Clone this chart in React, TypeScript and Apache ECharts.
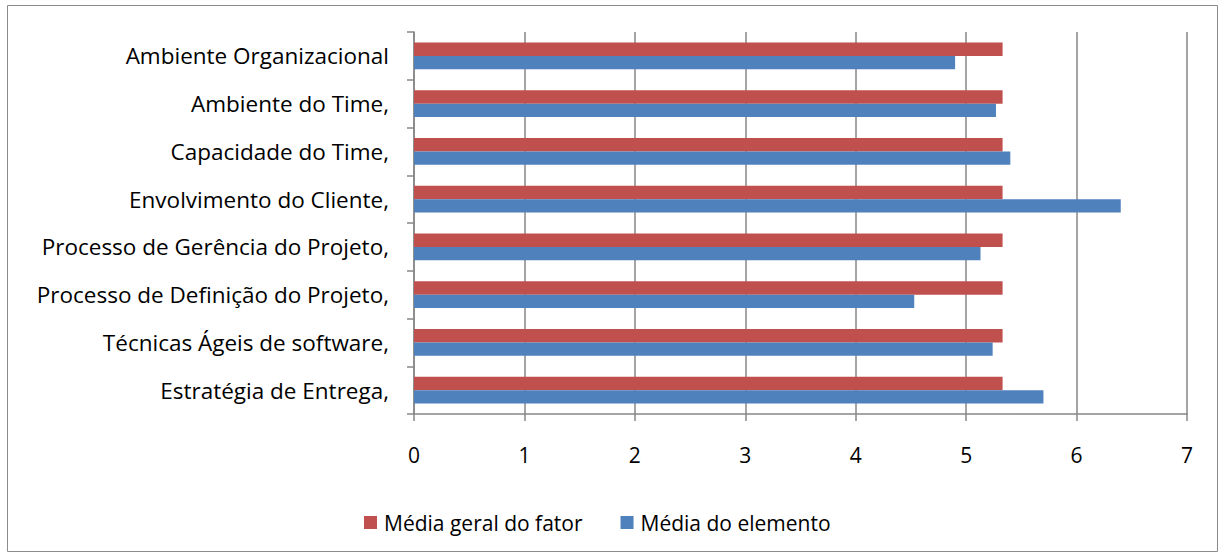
import React, { useEffect, useRef } from "react";
import * as echarts from "echarts";

const categories = [
  "Ambiente Organizacional",
  "Ambiente do Time,",
  "Capacidade do Time,",
  "Envolvimento do Cliente,",
  "Processo de Gerência do Projeto,",
  "Processo de Definição do Projeto,",
  "Técnicas Ágeis de software,",
  "Estratégia de Entrega,",
];
const mediaGeralFator = [5.33, 5.33, 5.33, 5.33, 5.33, 5.33, 5.33, 5.33];
const mediaElemento = [4.9, 5.27, 5.4, 6.4, 5.13, 4.53, 5.24, 5.7];
const seriesNames = ["Média geral do fator", "Média do elemento"];

export default function App() {
  const ref = useRef<HTMLDivElement>(null);
  useEffect(() => {
    document.body.style.margin = "0";
    const chart = echarts.init(ref.current!, undefined, { renderer: "svg" });
    const font = "'Open Sans', 'Noto Sans', sans-serif";
    chart.setOption({
      animation: false,
      textStyle: { fontFamily: font },
      graphic: [
        {
          type: "rect",
          shape: { x: 7.5, y: 5.5, width: 1210, height: 546 },
          style: { fill: "none", stroke: "#8c8c8c", lineWidth: 1 },
          silent: true,
        },
      ],
      grid: { left: 414, right: 36, top: 32, bottom: 144, containLabel: false },
      legend: {
        bottom: 20,
        left: 359,
        itemWidth: 13,
        itemHeight: 13,
        itemGap: 38,
        icon: "rect",
        textStyle: { fontSize: 21, color: "#000", fontFamily: font, padding: [0, 0, 0, 2] },
        data: seriesNames,
      },
      xAxis: {
        type: "value",
        min: 0,
        max: 7,
        interval: 1,
        axisLine: { show: true, lineStyle: { color: "#878787", width: 1.5 } },
        axisTick: { show: true, length: 7, lineStyle: { color: "#878787", width: 1.5 } },
        axisLabel: { color: "#000", fontSize: 21, margin: 30, fontFamily: font },
        splitLine: { show: true, lineStyle: { color: "#878787", width: 1.5 } },
      },
      yAxis: {
        type: "category",
        inverse: true,
        data: categories,
        axisLine: { show: true, lineStyle: { color: "#878787", width: 1.5 } },
        axisTick: { show: true, length: 7, lineStyle: { color: "#878787", width: 1.5 } },
        axisLabel: { color: "#000", fontSize: 22.5, margin: 25, fontFamily: font },
      },
      series: [
        {
          name: seriesNames[0],
          type: "bar",
          data: mediaGeralFator,
          itemStyle: { color: "#C0504D" },
          barGap: "0%",
          barCategoryGap: "44%",
        },
        {
          name: seriesNames[1],
          type: "bar",
          data: mediaElemento,
          itemStyle: { color: "#4F81BD" },
          barGap: "0%",
          barCategoryGap: "44%",
        },
      ],
    });
    return () => chart.dispose();
  }, []);
  return <div ref={ref} style={{ width: 1223, height: 558 }} />;
}
